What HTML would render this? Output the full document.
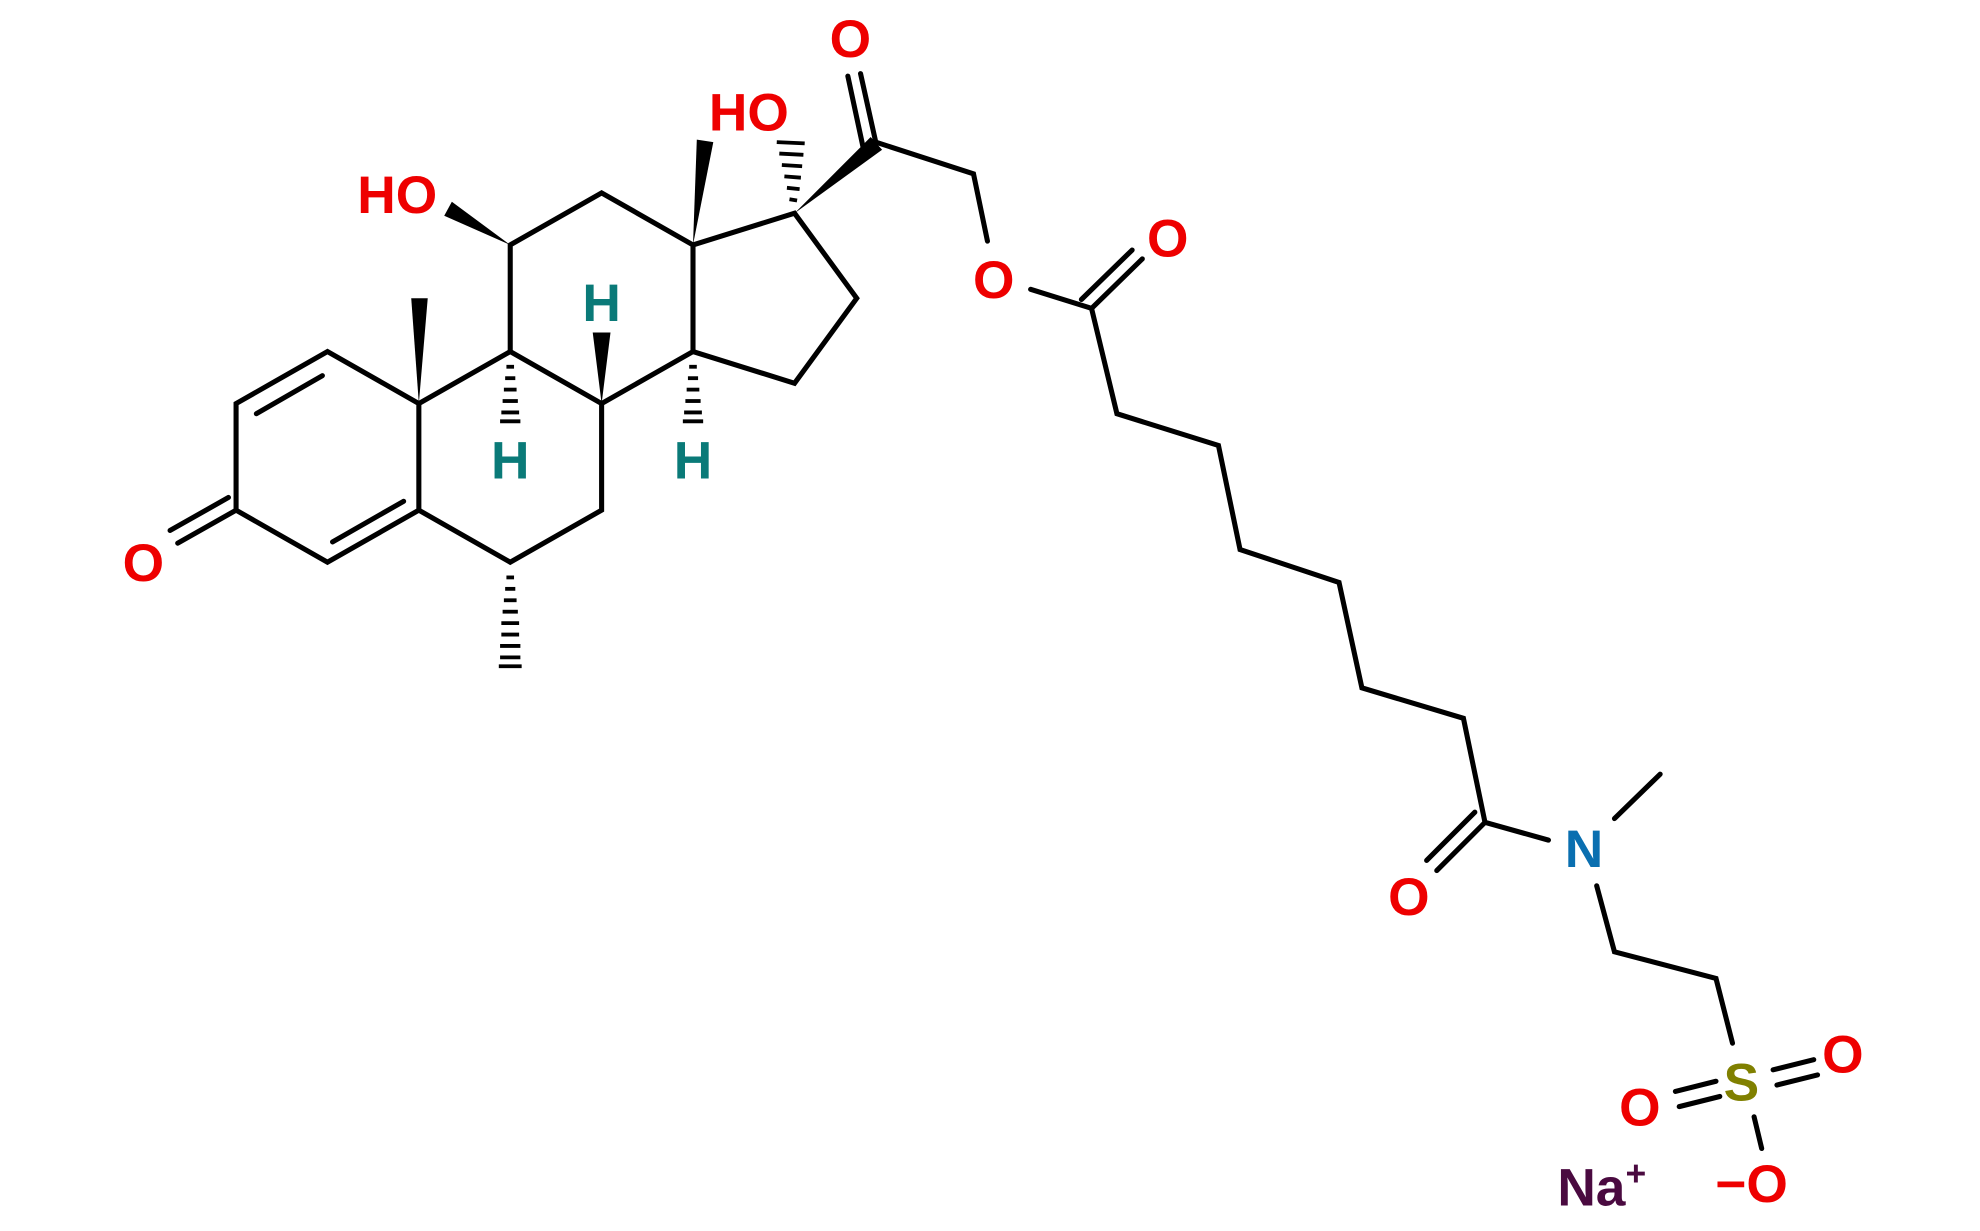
<!DOCTYPE html>
<html><head><style>html,body{margin:0;padding:0;background:#fff;}svg{display:block;}</style></head><body>
<svg width="1980" height="1231" viewBox="0 0 1560 970" preserveAspectRatio="none" xmlns="http://www.w3.org/2000/svg">
<g stroke="#000" stroke-width="4" fill="none" stroke-linecap="round">
<!-- Ring A -->
<path d="M258,277 L186,318 L186,402 L258,443 L330,402 L330,318 Z"/>
<line x1="202" y1="326" x2="254" y2="296"/>
<line x1="262" y1="427" x2="318" y2="395"/>
<line x1="186" y1="402" x2="140" y2="428"/>
<line x1="180" y1="392" x2="134" y2="418"/>
<!-- Ring B -->
<path d="M330,318 L402,277 L474,318 L474,402 L402,443 L330,402"/>
<!-- Ring C -->
<path d="M402,277 L402,193 L474,152 L546,193 L546,277 L474,318"/>
<!-- Ring D -->
<path d="M546,193 L626,168 L675,235 L626,302 L546,277"/>
<!-- side chain -->
<path d="M690,112 L767,137 L778,190"/>
<line x1="690" y1="112" x2="678" y2="58"/>
<line x1="680" y1="116" x2="668" y2="60"/>
<path d="M812,228 L860,243 L880,326 L960,351 L977,433 L1055,459 L1073,542 L1153,566 L1170,648 L1220,662"/>
<line x1="860" y1="243" x2="900" y2="204"/>
<line x1="852" y1="236" x2="892" y2="197"/>
<line x1="1170" y1="648" x2="1132" y2="686"/>
<line x1="1162" y1="640" x2="1124" y2="678"/>
<path d="M1272,645 L1308,610"/>
<path d="M1258,698 L1272,750 L1352,771 L1365,822"/>
<line x1="1382" y1="880" x2="1388" y2="905"/>
<line x1="1352" y1="852" x2="1320" y2="860"/>
<line x1="1355" y1="864" x2="1323" y2="872"/>
<line x1="1397" y1="843" x2="1429" y2="835"/>
<line x1="1400" y1="855" x2="1432" y2="847"/>
</g>
<!-- wedges -->
<g fill="#000">
<polygon points="330,318 324,235 337,235"/>
<polygon points="402,193 350,170 356,159"/>
<polygon points="474,318 467,262 481,262"/>
<polygon points="546,193 549,110 562,112"/>
<polygon points="626,168 686,108 695,118"/>
</g>
<!-- hashed -->
<g stroke="#000" stroke-width="3">
<line x1="399" y1="289" x2="405" y2="289"/><line x1="398" y1="298" x2="406" y2="298"/><line x1="397" y1="307" x2="407" y2="307"/><line x1="396" y1="316" x2="408" y2="316"/><line x1="395" y1="325" x2="409" y2="325"/><line x1="394" y1="332" x2="410" y2="332"/>
<line x1="543" y1="289" x2="549" y2="289"/><line x1="542" y1="298" x2="550" y2="298"/><line x1="541" y1="307" x2="551" y2="307"/><line x1="540" y1="316" x2="552" y2="316"/><line x1="539" y1="325" x2="553" y2="325"/><line x1="538" y1="332" x2="554" y2="332"/>
<line x1="399" y1="455" x2="405" y2="455"/><line x1="398" y1="464" x2="406" y2="464"/><line x1="397" y1="473" x2="407" y2="473"/><line x1="396" y1="482" x2="408" y2="482"/><line x1="395" y1="491" x2="409" y2="491"/><line x1="395" y1="500" x2="409" y2="500"/><line x1="394" y1="509" x2="410" y2="509"/><line x1="394" y1="518" x2="410" y2="518"/><line x1="393" y1="525" x2="411" y2="525"/>
<line x1="622" y1="157" x2="628" y2="158"/><line x1="620" y1="148" x2="630" y2="149"/><line x1="618" y1="139" x2="631" y2="140"/><line x1="616" y1="130" x2="632" y2="131"/><line x1="614" y1="121" x2="633" y2="122"/><line x1="612" y1="112" x2="634" y2="113"/>
</g>
<g font-family="Liberation Sans, sans-serif" font-weight="bold" font-size="42" text-anchor="middle">
<text x="113" y="458" fill="#e00">O</text>
<text x="313" y="168" fill="#e00">HO</text>
<text x="590" y="103" fill="#e00">HO</text>
<text x="670" y="45" fill="#e00">O</text>
<text x="783" y="235" fill="#e00">O</text>
<text x="920" y="202" fill="#e00">O</text>
<text x="1110" y="721" fill="#e00">O</text>
<text x="1248" y="683" fill="#0a6fb0">N</text>
<text x="1372" y="867" fill="#808000">S</text>
<text x="1292" y="887" fill="#e00">O</text>
<text x="1452" y="845" fill="#e00">O</text>
<text x="1380" y="947" fill="#e00">−O</text>
<text x="1262" y="950" fill="#4a0a40">Na<tspan font-size="28" dy="-16">+</tspan></text>
<text x="474" y="253" fill="#0a7a78">H</text>
<text x="402" y="377" fill="#0a7a78">H</text>
<text x="546" y="377" fill="#0a7a78">H</text>
</g>
</svg>
</body></html>
